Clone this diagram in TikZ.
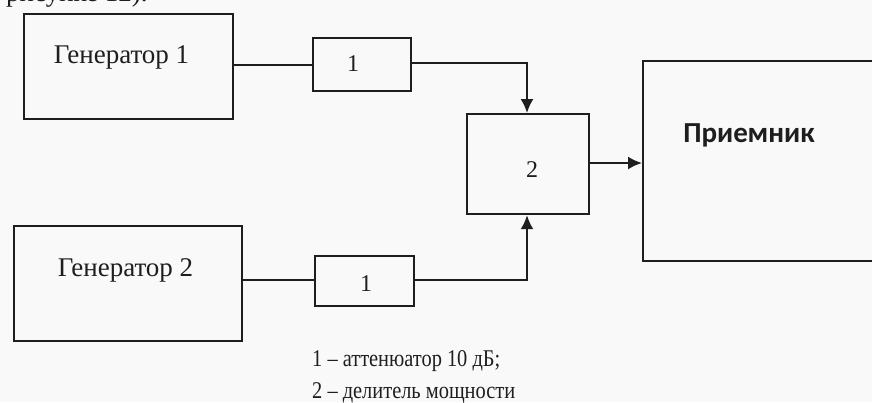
\documentclass[tikz,border=0pt]{standalone}
\usepackage{fontspec}
\setmainfont{Liberation Serif}
\newfontfamily\recvfont{Carlito}
\usetikzlibrary{arrows.meta}
\definecolor{bg}{RGB}{249,249,249}
\definecolor{ink}{RGB}{30,30,30}
\begin{document}
\begin{tikzpicture}[x=1pt,y=-1pt,
  blk/.style={draw=ink,line width=2.2pt,inner sep=0pt,anchor=north west},
  lbl/.style={text=ink,inner sep=0pt,anchor=base,font=\fontsize{27}{30}\selectfont},
  num/.style={text=ink,inner sep=0pt,anchor=base,font=\fontsize{24}{27}\selectfont},
  leg/.style={text=ink,inner sep=0pt,anchor=base west,font=\fontsize{24}{27}\selectfont},
  wire/.style={draw=ink,line width=2pt},
  arr/.style={wire,-{Latex[length=14pt,width=13pt]}}]
\fill[bg] (0,0) rectangle (872,402);
\useasboundingbox (0,0) rectangle (872,402);
% partial text at the top edge (cut off in the reference as well)
\node[text=ink,inner sep=0pt,anchor=base west,font=\fontsize{27}{30}\selectfont] (top) at (6,1) {рисунке 12).};
% blocks
\node[blk,minimum width=209pt,minimum height=105pt] (g1) at (23,13) {};
\node[blk,minimum width=228pt,minimum height=115pt] (g2) at (13,225) {};
\node[blk,minimum width=98pt,minimum height=53pt] (a1) at (312,37) {};
\node[blk,minimum width=99pt,minimum height=50pt] (a2) at (314,255) {};
\node[blk,minimum width=122pt,minimum height=100pt] (d) at (466,113) {};
\node[blk,minimum width=240pt,minimum height=200pt] (r) at (642,60) {};
% texts
\node[lbl] (g1t) at (121.5,63) {Генератор 1};
\node[lbl] (g2t) at (125.5,276) {Генератор 2};
\node[num] (a1t) at (353,71) {1};
\node[num] (a2t) at (366,291) {1};
\node[num] (dt) at (532,177) {2};
\node[text=ink,inner sep=0pt,anchor=base,font=\recvfont\bfseries\fontsize{29}{33}\selectfont] (rt) at (749,142) {Приемник};
\node[leg] (l1) at (312,366) {\scalebox{0.85}[1]{1 – аттенюатор 10 дБ;}};
\node[leg] (l2) at (312,398) {\scalebox{0.85}[1]{2 – делитель мощности}};
% connectors
\coordinate (c1) at (527,63);
\coordinate (c2) at (527,280);
\draw[wire] (g1.east |- 0,65) -- (a1.west |- 0,65);
\draw[wire] (g2.east |- 0,280) -- (a2.west |- 0,280);
\draw[arr] (a1.east |- c1) -- (c1) -- (d.north -| c1);
\draw[arr] (a2.east |- c2) -- (c2) -- (d.south -| c2);
\draw[arr] (d.east |- 0,163) -- (r.west |- 0,163);
\end{tikzpicture}
\end{document}
